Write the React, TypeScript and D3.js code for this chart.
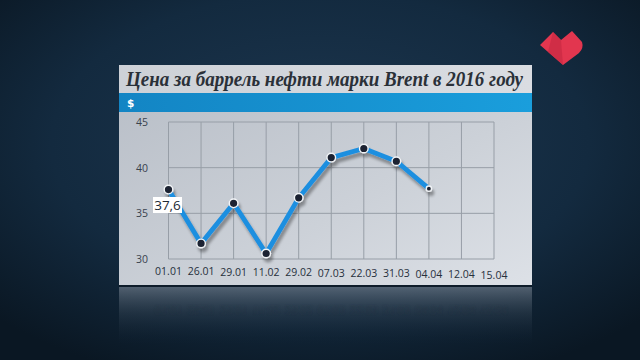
import React from "react";
import * as d3 from "d3";

const categories = ["01.01", "26.01", "29.01", "11.02", "29.02", "07.03", "22.03", "31.03", "04.04", "12.04", "15.04"];
const prices = [37.6, 31.7, 36.1, 30.6, 36.7, 41.1, 42.1, 40.7, 37.7];
const yTicks = [30, 35, 40, 45];
const title = "Цена за баррель нефти марки Brent в 2016 году";
const unit = "$";
const highlightLabel = "37,6";

const W = 640;
const H = 360;

export default function App() {
  const panel = { x: 119, y: 65, w: 413, h: 221 };
  const x = d3.scalePoint<string>().domain(categories).range([168.5, 494]);
  const y = d3.scaleLinear().domain([30, 45]).range([259, 122]);

  const pts = prices.map((v, i) => [x(categories[i]) as number, y(v)] as [number, number]);
  const line = d3.line<[number, number]>().x(d => d[0]).y(d => d[1]);
  const path = line(pts) || "";

  const labelFont = "'Open Sans', 'DejaVu Sans', sans-serif";

  return (
    <svg width={W} height={H} style={{ position: "absolute", left: 0, top: 0, display: "block" }}>
      <defs>
        <radialGradient id="bg" cx="0.5" cy="0.4" r="0.7">
          <stop offset="0" stopColor="#1d3750" />
          <stop offset="0.6" stopColor="#132a3f" />
          <stop offset="1" stopColor="#0a1723" />
        </radialGradient>
        <linearGradient id="plotBg" x1="0" y1="0" x2="1" y2="1">
          <stop offset="0" stopColor="#b7bdc6" />
          <stop offset="0.6" stopColor="#ccd1d8" />
          <stop offset="1" stopColor="#dde1e7" />
        </linearGradient>
        <linearGradient id="titleBg" x1="0" y1="0" x2="1" y2="0">
          <stop offset="0" stopColor="#cdd1d7" />
          <stop offset="1" stopColor="#dadde2" />
        </linearGradient>
        <linearGradient id="band" x1="0" y1="0" x2="1" y2="0">
          <stop offset="0" stopColor="#1385c4" />
          <stop offset="1" stopColor="#1a9edc" />
        </linearGradient>
        <linearGradient id="refl" x1="0" y1="0" x2="0" y2="1">
          <stop offset="0" stopColor="#74808e" stopOpacity="0.65" />
          <stop offset="0.45" stopColor="#41505f" stopOpacity="0.35" />
          <stop offset="1" stopColor="#13263a" stopOpacity="0" />
        </linearGradient>
        <filter id="shadow" x="-10%" y="-10%" width="120%" height="130%">
          <feGaussianBlur in="SourceAlpha" stdDeviation="1.8" />
          <feOffset dx="2" dy="4" result="b" />
          <feComponentTransfer><feFuncA type="linear" slope="0.35" /></feComponentTransfer>
          <feMerge><feMergeNode /><feMergeNode in="SourceGraphic" /></feMerge>
        </filter>
        <filter id="blur" x="-5%" y="-50%" width="110%" height="200%"><feGaussianBlur stdDeviation="0.9" /></filter>
      </defs>

      <rect x={0} y={0} width={W} height={H} fill="url(#bg)" />

      {/* logo */}
      <g>
        <path d="M540,45 L553,32 L561,40 L572,31 L582,42 Q584,48 579,53 L563,65 Z" fill="#e2364f" />
        <path d="M553,32 L561,40 L563,65 L548,52 Z" fill="#c92a43" opacity={0.7} />
      </g>

      {/* reflection */}
      <rect x={panel.x} y={panel.y + panel.h + 1} width={panel.w} height={58} fill="url(#refl)" />
      <g opacity={0.5} filter="url(#blur)">
        <g transform="translate(0,578) scale(1,-1)" fontFamily={labelFont} fontSize={10.5} fill="#24313f">
          {categories.map((c) => (
            <text key={c} x={x(c) as number} y={272} textAnchor="middle">{c}</text>
          ))}
        </g>
      </g>

      {/* panel */}
      <rect x={panel.x} y={panel.y} width={panel.w} height={panel.h} fill="url(#plotBg)" />
      <rect x={panel.x} y={panel.y} width={panel.w} height={28} fill="url(#titleBg)" />
      <rect x={panel.x} y={93} width={panel.w} height={19} fill="url(#band)" />
      <line x1={panel.x} x2={panel.x + panel.w} y1={panel.y + panel.h} y2={panel.y + panel.h} stroke="#0e1c2a" strokeWidth={2} />

      <text x={126} y={86} fontFamily="'Liberation Serif', 'DejaVu Serif', serif" fontStyle="italic" fontWeight="bold"
        fontSize={21} fill="#2a3038" textLength={397} lengthAdjust="spacingAndGlyphs">{title}</text>
      <text x={127} y={107} fontFamily="'DejaVu Sans', sans-serif" fontWeight="bold" fontSize={10.5} fill="#ffffff">{unit}</text>

      {/* grid */}
      <g stroke="#979ea7" strokeWidth={1} fill="none">
        {categories.map(c => (
          <line key={c} x1={x(c) as number} x2={x(c) as number} y1={y(45)} y2={y(30)} />
        ))}
        {yTicks.map(t => (
          <line key={t} x1={168.5} x2={494} y1={y(t)} y2={y(t)} />
        ))}
      </g>

      <g fontFamily={labelFont} fontSize={10.5} fill="#3a424e" textAnchor="middle">
        {yTicks.map(t => (
          <text key={t} x={142} y={y(t) + 4}>{t}</text>
        ))}
      </g>
      <g fontFamily={labelFont} fontSize={10.5} fill="#27303c">
        {categories.map((c, i) => (
          <text key={c} x={x(c) as number} y={275 + i * 0.35} textAnchor="middle">{c}</text>
        ))}
      </g>

      {/* line */}
      <g filter="url(#shadow)">
        <path d={path} fill="none" stroke="#1f8fe0" strokeWidth={4.8} strokeLinejoin="miter" />
        {pts.map((p, i) => (
          <circle key={i} cx={p[0]} cy={p[1]} r={i === pts.length - 1 ? 2.6 : 4.3} fill="#1b2330" stroke="#f2f4f7" strokeWidth={1.4} />
        ))}
      </g>

      {/* value label */}
      <g>
        <rect x={153} y={197} width={29} height={16} fill="#ffffff" />
        <text x={167.5} y={210} textAnchor="middle" fontFamily={labelFont} fontSize={13.5} fill="#222a35">{highlightLabel}</text>
      </g>
    </svg>
  );
}
